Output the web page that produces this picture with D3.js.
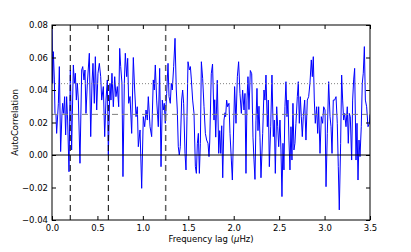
<!DOCTYPE html>
<html>
<head>
<meta charset="utf-8">
<script src="https://cdn.jsdelivr.net/npm/d3@7"></script>
<style>
  body { margin: 0; background: #fff; }
  text { font-family: "DejaVu Sans", sans-serif; }
</style>
</head>
<body>
<div class="center"></div>
<script>
// autocorrelation vs frequency lag
const lag = [
  0, 0.004, 0.007, 0.015, 0.026, 0.033, 0.044, 0.051, 0.070, 0.081, 0.095, 0.110, 0.117, 0.128, 0.139,
  0.150, 0.161, 0.172, 0.187, 0.202, 0.216, 0.235, 0.246, 0.257, 0.268, 0.279, 0.290, 0.308, 0.327,
  0.338, 0.352, 0.363, 0.374, 0.389, 0.411, 0.426, 0.440, 0.451, 0.466, 0.477, 0.492, 0.506, 0.521,
  0.536, 0.547, 0.565, 0.580, 0.594, 0.609, 0.620, 0.638, 0.649, 0.660, 0.675, 0.690, 0.704, 0.719,
  0.734, 0.745, 0.756, 0.770, 0.781, 0.796, 0.807, 0.822, 0.833, 0.844,
  0.859, 0.877, 0.895, 0.910, 0.925, 0.939, 0.950, 0.969, 0.987, 1.005, 1.020, 1.035, 1.049, 1.060,
  1.079, 1.097, 1.115, 1.126, 1.137, 1.152, 1.170, 1.185, 1.200, 1.214, 1.225, 1.236, 1.247, 1.262,
  1.277, 1.288, 1.302, 1.313, 1.324, 1.339, 1.354, 1.368, 1.379, 1.390, 1.401, 1.412, 1.427, 1.438,
  1.449, 1.464, 1.475, 1.486, 1.497, 1.512, 1.523, 1.534, 1.548, 1.563, 1.578, 1.589, 1.600, 1.611,
  1.622, 1.633, 1.644, 1.658, 1.673, 1.688, 1.702, 1.717, 1.728,
  1.736, 1.753, 1.767, 1.783, 1.791, 1.802, 1.819, 1.835, 1.846, 1.857, 1.868, 1.879, 1.893, 1.904,
  1.911, 1.922, 1.933, 1.948, 1.959, 1.974, 1.985, 1.996, 2.010, 2.025, 2.040, 2.054, 2.069, 2.084,
  2.098, 2.113, 2.124, 2.135, 2.146, 2.157, 2.168, 2.183, 2.198, 2.212, 2.223, 2.234,
  2.245, 2.256, 2.267, 2.278, 2.289, 2.300,
  2.319, 2.333, 2.344, 2.355, 2.370, 2.381, 2.392, 2.407, 2.421, 2.436, 2.447, 2.458, 2.473, 2.484,
  2.495, 2.509, 2.520, 2.531, 2.542, 2.553, 2.564, 2.575, 2.586, 2.597, 2.608, 2.619, 2.630, 2.641,
  2.652, 2.663, 2.674, 2.685, 2.700, 2.711, 2.722, 2.733, 2.744, 2.755, 2.766, 2.781, 2.795, 2.810,
  2.825, 2.839, 2.854, 2.865, 2.876, 2.887, 2.898, 2.913, 2.924, 2.935, 2.950, 2.964, 2.979, 2.990,
  3.005, 3.016, 3.030, 3.045, 3.060, 3.071, 3.082, 3.096, 3.111, 3.126, 3.140, 3.151, 3.162, 3.177,
  3.188, 3.199, 3.210, 3.221, 3.236, 3.250, 3.261, 3.272, 3.283, 3.298, 3.309, 3.320, 3.331, 3.346,
  3.357, 3.368, 3.379, 3.390, 3.404, 3.415, 3.426, 3.438, 3.449, 3.463, 3.478, 3.493, 3.5
];
const acf = [
  0.083, 0.0626, 0.0441, 0.0636, 0.0462, 0.0256, 0.0246, 0.0133, 0.0318, 0.0544, 0.0021, 0.0256, 0.0318, 0.0256, 0.0359,
  0.0123, 0.0359, 0.0215, -0.0103, 0.0523, 0.0031, 0.0554, 0.0441, 0.0503, 0.0338, 0.0441, 0.0338, -0.0051, 0.0523,
  0.0544, 0.0462, 0.0523, 0.0256, 0.0441, 0.0626, 0.0113, 0.0441, 0.0564, 0.0318, 0.0605, 0.0277, 0.0503, 0.0564,
  0.0482, 0.0338, 0.0421, 0.0113, 0.0338, 0.0462, 0.0, 0.0441, 0.0338, 0.0503, 0.0297, 0.0482, 0.0359, 0.0421,
  0.0297, 0.0656, 0.0544, 0.0441, -0.0133, 0.0441, 0.0626, 0.0482, 0.0595, 0.0318,
  0.036, 0.0133, 0.060, 0.0400, 0.0236, 0.0297, 0.0051, 0.0154, -0.0205, 0.0236, 0.0174, 0.0277, 0.0215, 0.0359,
  0.0174, 0.0113, 0.0462, 0.0400, 0.0554, 0.0338, 0.0174, 0.0533, -0.0072, 0.0338, 0.0277, 0.0318, 0.0195, 0.0379,
  0.0564, 0.0359, 0.0318, 0.0441, 0.0400, 0.0544, 0.0718, 0.0400, 0.0277, 0.0051, 0.0, 0.0051, 0.0338, 0.0400,
  0.0318, 0.0010, -0.0092, 0.0236, 0.0574, 0.0523, 0.0544, 0.0462, 0.0338, 0.0256, -0.0072, -0.0113, 0.0072, 0.0133,
  -0.0113, 0.0072, 0.0574, 0.0472, 0.0297, 0.0133, 0.0092, 0.0072, -0.0010,
  0.008, 0.050, 0.056, 0.0215, 0.034, 0.011, 0.046, 0.001, 0.015, 0.001, 0.018, -0.014, 0.0215, 0.026,
  0.0236, 0.0338, 0.0297, 0.0318, 0.0133, -0.0031, -0.0154, 0.0092, 0.0421, 0.0195, 0.0482, 0.0574, 0.0379, 0.0256,
  0.0400, 0.0277, 0.0379, -0.0113, 0.0338, 0.0482, 0.028, 0.052, 0.050, 0.011, -0.003, -0.015,
  0.021, 0.041, 0.015, 0.030, 0.011, -0.014,
  0.0133, 0.0400, 0.0338, 0.0492, 0.0174, 0.0338, -0.0072, 0.0174, 0.0492, 0.0113, 0.0215, -0.0113, 0.0297, 0.0174,
  0.0051, 0.0215, 0.0031, -0.0256, 0.0072, -0.0092, 0.0297, 0.0451, 0.0236, 0.0338, 0.0092, -0.0092, 0.0174, -0.0031,
  0.0318, 0.0031, 0.0072, 0.0195, 0.0359, 0.0451, 0.0195, 0.0359, 0.0236, 0.0113, 0.0236, 0.0338, 0.0092, 0.0338,
  0.0359, 0.0441, 0.0585, 0.0482, 0.0605, 0.0338, 0.0195, 0.0297, 0.0133, 0.0297, 0.0010, 0.0236, 0.0195, 0.0297,
  0.0277, -0.0195, 0.0133, 0.0451, 0.0236, 0.0174, 0.0010, 0.0338, 0.0338, 0.0359, 0.0195, -0.0072, -0.0338, 0.0072,
  0.0492, 0.0338, 0.0215, 0.0256, 0.0174, 0.0297, 0.0072, 0.0256, 0.0236, -0.0031, 0.0338, 0.0462, 0.0533, -0.0031,
  0.0195, -0.0154, 0.0092, -0.0010, 0.0174, 0.0441, 0.0503, 0.0667, 0.0338, 0.0297, 0.0174, 0.0195, 0.025
];

// reference lines
const hDotted = 0.0439;
const hDashed = 0.025;
const vBlack = [0.201, 0.62];
const vGrey = [1.251];

const xTicks = [0, 0.5, 1, 1.5, 2, 2.5, 3, 3.5];
const yTicks = [-0.04, -0.02, 0, 0.02, 0.04, 0.06, 0.08];

const W = 411, H = 252;
const margin = {top: 25, right: 41, bottom: 32, left: 52};
const width = W - margin.left - margin.right;
const height = H - margin.top - margin.bottom;

const xScale = d3.scaleLinear().domain([0, 3.5]).range([0, width]);
const yScale = d3.scaleLinear().domain([-0.04, 0.08]).range([height, 0]);

const svg = d3.select(".center").append("svg")
    .attr("width", W)
    .attr("height", H)
  .append("g")
    .attr("transform", `translate(${margin.left},${margin.top})`);

svg.append("clipPath").attr("id", "clip")
  .append("rect").attr("width", width).attr("height", height);

const data = lag.map((d, i) => ({lag: d, v: acf[i]}));

const line = d3.line()
    .x(d => xScale(d.lag))
    .y(d => yScale(d.v));

svg.append("path")
    .datum(data)
    .attr("clip-path", "url(#clip)")
    .attr("fill", "none")
    .attr("stroke", "#0000ff")
    .attr("stroke-width", 1)
    .attr("stroke-linejoin", "round")
    .attr("d", line);

// horizontal refs
svg.append("line")
    .attr("x1", 0).attr("x2", width)
    .attr("y1", yScale(0)).attr("y2", yScale(0))
    .attr("stroke", "#000").attr("stroke-width", 1);
svg.append("line")
    .attr("x1", 0).attr("x2", width)
    .attr("y1", yScale(hDotted)).attr("y2", yScale(hDotted))
    .attr("stroke", "#808080").attr("stroke-width", 1)
    .attr("stroke-dasharray", "1,2");
svg.append("line")
    .attr("x1", 0).attr("x2", width)
    .attr("y1", yScale(hDashed)).attr("y2", yScale(hDashed))
    .attr("stroke", "#808080").attr("stroke-width", 1)
    .attr("stroke-dasharray", "6,4");

// vertical refs
svg.selectAll(".vb").data(vBlack).enter().append("line")
    .attr("x1", d => xScale(d)).attr("x2", d => xScale(d))
    .attr("y1", 0).attr("y2", height)
    .attr("stroke", "#000").attr("stroke-width", 1)
    .attr("stroke-dasharray", "6,4");
svg.selectAll(".vg").data(vGrey).enter().append("line")
    .attr("x1", d => xScale(d)).attr("x2", d => xScale(d))
    .attr("y1", 0).attr("y2", height)
    .attr("stroke", "#606060").attr("stroke-width", 1.5)
    .attr("stroke-dasharray", "6,4");

// axes, ticks pointing inward
const fmtY = d3.format(".2f");
const xAxis = d3.axisBottom(xScale).tickValues(xTicks).tickFormat(d3.format(".1f"))
    .tickSize(-4).tickSizeOuter(0).tickPadding(5);
const yAxis = d3.axisLeft(yScale).tickValues(yTicks).tickFormat(d => fmtY(d).replace("-", "\u2212"))
    .tickSize(-4).tickSizeOuter(0).tickPadding(4);

const gx = svg.append("g").attr("transform", `translate(0,${height})`).call(xAxis);
const gy = svg.append("g").call(yAxis);
svg.append("g").call(d3.axisTop(xScale).tickValues(xTicks).tickFormat("").tickSize(-4).tickSizeOuter(0));
svg.append("g").attr("transform", `translate(${width},0)`)
    .call(d3.axisRight(yScale).tickValues(yTicks).tickFormat("").tickSize(-4).tickSizeOuter(0));

svg.selectAll(".domain").remove();
svg.selectAll(".tick line").attr("stroke", "#000");
svg.selectAll(".tick text").style("font-size", "8.5px").attr("fill", "#000")
    .style("font-family", "DejaVu Sans");

svg.append("rect")
    .attr("width", width).attr("height", height)
    .attr("fill", "none").attr("stroke", "#000").attr("stroke-width", 1);

// labels
const xl = svg.append("text")
    .attr("x", width / 2)
    .attr("y", height + 22)
    .attr("text-anchor", "middle")
    .style("font-size", "8.5px");
xl.append("tspan").text("Frequency lag (");
xl.append("tspan").style("font-style", "italic").text("\u03bc");
xl.append("tspan").text("Hz)");

svg.append("text")
    .attr("transform", `translate(${-34.5},${height / 2}) rotate(-90)`)
    .attr("text-anchor", "middle")
    .style("font-size", "8.5px")
    .text("AutoCorrelation");
</script>
</body>
</html>
